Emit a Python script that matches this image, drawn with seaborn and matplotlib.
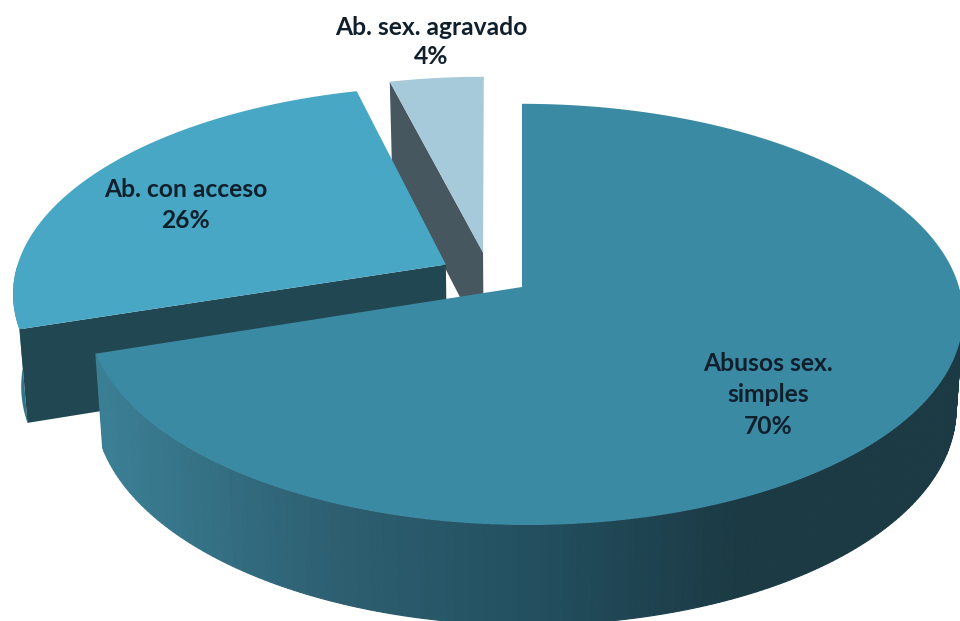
import numpy as np
import matplotlib
matplotlib.use("Agg")
import matplotlib.pyplot as plt
import seaborn as sns

# --- data ---
categories = ["Abusos sex.\nsimples", "Ab. con acceso", "Ab. sex. agravado"]
values = [70, 26, 4]
percent_labels = ["70%", "26%", "4%"]

# --- style ---
face_colors = ["#3b8aa4", "#47a7c5", "#a6cad9"]
edge_colors = [None, "#214753", "#47575f"]
wall_stops = ["#3b7f95", "#2e6173", "#235060", "#1b3a44"]
arc_color = "#2f7488"
text_color = "#101f2c"
explode = [(0.0, 0.0), (-0.185, 0.11), (-0.10, 0.17)]
apex_nudge = [0.0, 3.0, 3.5]
label_pos = [(768, 395), (186, 205), (431, 42)]
label_spacing = [1.45, 1.45, 1.34]

CX, CY, RX, RY, K = 522.0, 287.0, 434.0, 207.0, 0.13
SHIFT = 3.0
INSET = 0.984
D0, D1 = 92.0, 8.0


def project(X, Y, rim=True):
    s = 1.0 / (1.0 + K * Y)
    x = CX + RX * X * s
    y = CY - RY * Y * s
    if rim:
        x = x + SHIFT * (1 - Y)
    return x, y


def lower(x, y, Y):
    return CX + INSET * (x - CX), y + D0 - D1 * Y


sns.set_theme(style="white")
plt.rcParams["font.family"] = ["Lato", "DejaVu Sans"]
fig = plt.figure(figsize=(9.6, 6.21), dpi=100, facecolor="white")
ax = fig.add_axes([0, 0, 1, 1])
ax.set_xlim(0, 960)
ax.set_ylim(621, 0)
ax.axis("off")

wall_pal = sns.blend_palette(wall_stops, 160)

# slices run clockwise from 12 o'clock
cum = np.cumsum([0] + values) / sum(values) * 360.0
starts = 90.0 - cum[:-1]
ends = 90.0 - cum[1:]

for i in [2, 1, 0]:
    a = np.radians(np.linspace(starts[i], ends[i], 300))
    ox, oy = explode[i]
    X, Y = np.cos(a) + ox, np.sin(a) + oy
    rx, ry = project(X, Y)
    apx, apy = project(np.array([ox]), np.array([oy]), rim=False)
    apx = apx + apex_nudge[i]
    z = 2 + 3 * (2 - i)
    if i == 0:
        # curved outer wall with horizontal shading (front half only)
        bx, by = lower(rx, ry, Y)
        for j in range(len(a) - 1):
            if Y[j] > -0.02:
                continue
            frac = np.clip((rx[j] - 100) / (740 - 100), 0, 1)
            col = wall_pal[int(frac * (len(wall_pal) - 1))]
            ax.fill([rx[j], rx[j + 1], bx[j + 1], bx[j]],
                    [ry[j], ry[j + 1], by[j + 1], by[j]],
                    color=col, lw=0.8, zorder=z)
    else:
        # straight cut wall at the start of the slice's sweep
        ex, ey, eY = rx[0], ry[0], Y[0]
        if i == 1:
            arc = np.radians(np.linspace(starts[1], -180.0, 30))
            Xa, Ya = np.cos(arc) + ox, np.sin(arc) + oy
            xa, ya = project(Xa, Ya)
            xb, yb = lower(xa, ya, Ya)
            ax.fill(np.r_[xa, xb[::-1]], np.r_[ya, yb[::-1]],
                    color=arc_color, lw=0, zorder=z)
        ebx, eby = lower(ex, ey, eY)
        abx, aby = lower(apx[0], apy[0], oy)
        ax.fill([apx[0], ex, ebx, abx], [apy[0], ey, eby, aby],
                color=edge_colors[i], lw=0, zorder=z + 1)
    ax.fill(np.r_[apx, rx], np.r_[apy, ry], color=face_colors[i], lw=0, zorder=z + 2)

for cat, pct, (lx, ly), sp in zip(categories, percent_labels, label_pos, label_spacing):
    ax.text(lx, ly, f"{cat}\n{pct}", ha="center", va="center", fontsize=17.7,
            fontweight="bold", color=text_color, linespacing=sp, zorder=20)

fig.savefig("out.png", dpi=100, facecolor="white")
